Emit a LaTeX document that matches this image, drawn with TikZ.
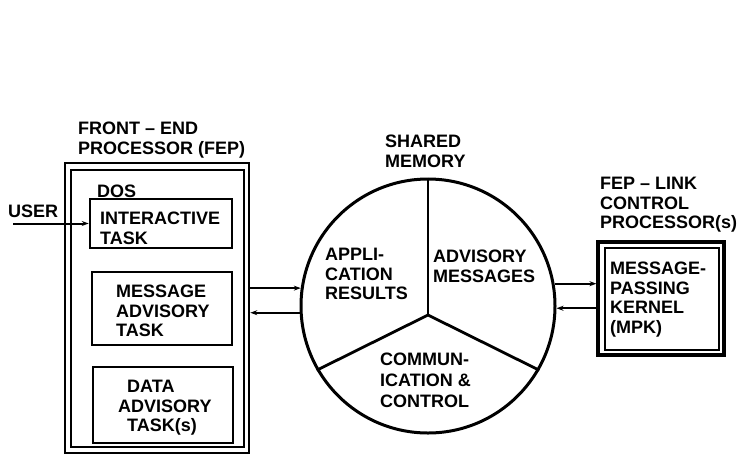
\documentclass[tikz,border=0pt]{standalone}
\usepackage{fontspec}
\setmainfont{Liberation Sans}
\usetikzlibrary{arrows.meta,calc}
\begin{document}
\begin{tikzpicture}[x=1pt,y=-1pt,
  box/.style={draw, rectangle, line width=2.6pt, inner sep=0pt},
  lbl/.style={font=\fontsize{18}{19.5}\selectfont\bfseries, align=left, anchor=north west, inner sep=0pt},
  arr/.style={-{Stealth[length=7pt,width=5pt]}, line width=2pt},
  divider/.style={line width=2.8pt}]
\fill[white] (0,0) rectangle (742,456);
\useasboundingbox (0,0) rectangle (742,456);

% Front-end processor
\node[box, minimum width=184pt, minimum height=290pt] (fepo) at (157,308) {};
\node[box, minimum width=173pt, minimum height=277pt] (fepi) at (157.5,308.5) {};
\node[lbl] (feplbl) at (78,122) {FRONT -- END\\PROCESSOR (FEP)};
\node[lbl] (dos) at (97,185) {DOS};
\node[box, minimum width=142pt, minimum height=49pt] (itask) at (161,223.5) {};
\node[lbl] (itasklbl) at (100,212) {INTERACTIVE\\TASK};
\node[box, minimum width=140pt, minimum height=73pt] (mtask) at (162,308.5) {};
\node[lbl] (mtasklbl) at (116,285) {MESSAGE\\ADVISORY\\TASK};
\node[box, minimum width=140pt, minimum height=76pt] (dtask) at (163,405) {};
\node[lbl] (dtasklbl) at (118,380) {\hspace{9pt}DATA\\ADVISORY\\\hspace{9pt}TASK(s)};

% User
\node[lbl] (user) at (8,205) {USER};
\coordinate (ustart) at (13,223.5);
\draw[arr] (ustart) -- (itask.west);

% Shared memory
\node[circle, draw, line width=3pt, minimum size=254pt, inner sep=0pt] (mem) at (428,306) {};
\coordinate (junc) at ($(mem.center)+(0,9)$);
\draw[divider] (mem.90) -- (junc);
\draw[divider] (mem.210) -- (junc) -- (mem.330);
\node[lbl] (shlbl) at (385,135) {SHARED\\MEMORY};
\node[lbl] (applbl) at (325,248) {APPLI-\\CATION\\RESULTS};
\node[lbl] (advlbl) at (433,250) {ADVISORY\\MESSAGES};
\node[lbl, font=\fontsize{18}{21}\selectfont\bfseries] (comlbl) at (380,353) {COMMUN-\\ICATION \&\\CONTROL};

% FEP-link control processor
\node[lbl] (lcplbl) at (600,177) {FEP -- LINK\\CONTROL\\PROCESSOR(s)};
\node[box, line width=3.2pt, minimum width=126pt, minimum height=113pt] (mpko) at (661,298.5) {};
\node[box, line width=2.8pt, minimum width=114pt, minimum height=102pt] (mpki) at (662,299) {};
\node[lbl] (mpklbl) at (610,262) {MESSAGE-\\PASSING\\KERNEL\\(MPK)};

% Connectors
\draw[arr] (fepo.east |- mem.172) -- (mem.172);
\draw[arr] (mem.183) -- (mem.183 -| fepo.east);
\draw[arr] (mem.10) -- (mem.10 -| mpko.west);
\draw[arr] (mpko.west |- mem.-1) -- (mem.-1);
\end{tikzpicture}
\end{document}
